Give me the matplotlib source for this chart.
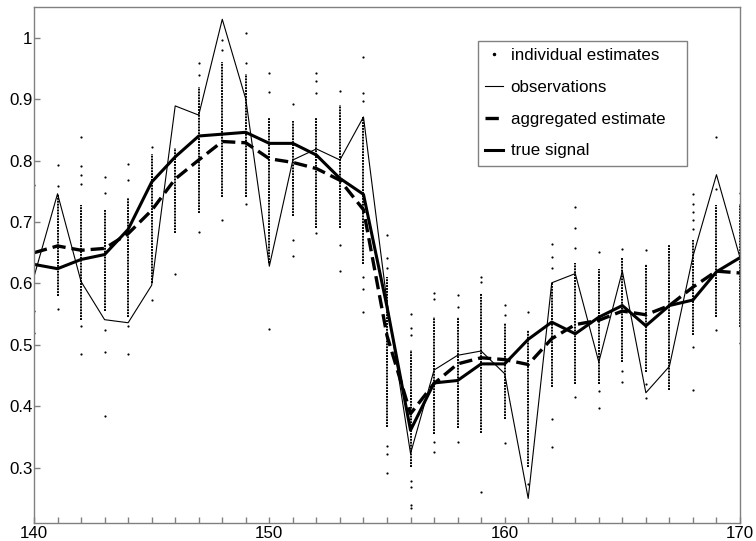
import matplotlib
matplotlib.use("Agg")
import matplotlib.pyplot as plt
from matplotlib.ticker import MultipleLocator, FormatStrFormatter
import numpy as np

plt.rcParams["font.family"] = ["Liberation Sans", "DejaVu Sans"]

# Данные
x_values = list(range(140, 171))

true_signal = [0.631, 0.624, 0.639, 0.647, 0.688, 0.765, 0.806, 0.840, 0.843, 0.846,
               0.828, 0.828, 0.809, 0.771, 0.745, 0.562, 0.361, 0.438, 0.442, 0.469,
               0.469, 0.509, 0.537, 0.518, 0.545, 0.564, 0.531, 0.564, 0.573, 0.619,
               0.642]

aggregated_estimate = [0.650, 0.661, 0.654, 0.657, 0.681, 0.719, 0.770, 0.801, 0.831, 0.829,
                       0.803, 0.797, 0.787, 0.768, 0.720, 0.515, 0.388, 0.437, 0.469, 0.479,
                       0.476, 0.468, 0.510, 0.533, 0.540, 0.555, 0.549, 0.564, 0.594, 0.620,
                       0.617]

observations = [0.611, 0.746, 0.603, 0.541, 0.536, 0.597, 0.889, 0.874, 1.030, 0.900,
                0.628, 0.801, 0.819, 0.801, 0.871, 0.570, 0.323, 0.459, 0.483, 0.490,
                0.453, 0.250, 0.601, 0.616, 0.472, 0.620, 0.422, 0.465, 0.644, 0.777,
                0.642]

# плотная часть облака индивидуальных оценок (верх / низ)
estimates_high = [0.750, 0.745, 0.727, 0.720, 0.739, 0.810, 0.820, 0.920, 0.961, 0.941,
                  0.869, 0.865, 0.870, 0.890, 0.871, 0.611, 0.491, 0.545, 0.545, 0.584,
                  0.535, 0.524, 0.602, 0.633, 0.624, 0.641, 0.632, 0.662, 0.670, 0.727,
                  0.730]
estimates_low = [0.570, 0.580, 0.540, 0.555, 0.545, 0.600, 0.682, 0.714, 0.741, 0.741,
                 0.633, 0.710, 0.690, 0.690, 0.632, 0.366, 0.301, 0.355, 0.364, 0.356,
                 0.380, 0.301, 0.431, 0.437, 0.437, 0.472, 0.456, 0.426, 0.516, 0.545,
                 0.529]

# отдельные выбросы
estimates_outliers = [
    [0.760, 0.555, 0.519],
    [0.793, 0.759, 0.559],
    [0.838, 0.791, 0.776, 0.762, 0.530, 0.485],
    [0.774, 0.747, 0.524, 0.488, 0.384],
    [0.795, 0.769, 0.531, 0.485],
    [0.822, 0.573],
    [0.615],
    [0.959, 0.940, 0.684],
    [0.996, 0.980, 0.703],
    [1.007, 0.959, 0.729],
    [0.943, 0.912, 0.525],
    [0.892, 0.670, 0.645],
    [0.943, 0.930, 0.910, 0.682],
    [0.913, 0.662, 0.620],
    [0.969, 0.910, 0.897, 0.611, 0.591, 0.554],
    [0.679, 0.641, 0.625, 0.336, 0.322, 0.291],
    [0.551, 0.527, 0.516, 0.279, 0.268, 0.240, 0.234],
    [0.585, 0.574, 0.342, 0.325],
    [0.581, 0.562, 0.342],
    [0.611, 0.603, 0.260],
    [0.565, 0.548, 0.341],
    [0.554, 0.274],
    [0.664, 0.643, 0.625, 0.380, 0.334],
    [0.725, 0.691, 0.657, 0.415],
    [0.651, 0.425, 0.397],
    [0.656, 0.458, 0.440],
    [0.655, 0.437, 0.413],
    [],
    [0.745, 0.730, 0.716, 0.703, 0.688, 0.497, 0.427],
    [0.839, 0.753, 0.524],
    [0.747, 0.503],
]

fig = plt.figure(figsize=(7.56, 5.41), dpi=100)
ax = fig.add_axes([34 / 756, 1 - 523 / 541, 706 / 756, 516 / 541])

# Облако индивидуальных оценок
ax.vlines(x_values, estimates_low, estimates_high, colors="black",
          linestyles=(0, (1, 0.5)), linewidth=1.4)
out_x = [x for x, vals in zip(x_values, estimates_outliers) for _ in vals]
out_y = [v for vals in estimates_outliers for v in vals]
ax.scatter(out_x, out_y, s=2.5, color="black", linewidths=0)

# Линии
ax.plot(x_values, observations, color="black", linewidth=0.8)
ax.plot(x_values, aggregated_estimate, color="black", linewidth=2.4,
        dashes=(4, 1.8))
ax.plot(x_values, true_signal, color="black", linewidth=2.2)

# Легенда
handles = [
    plt.Line2D([], [], linestyle="none", marker=".", markersize=3, color="black"),
    plt.Line2D([], [], color="black", linewidth=0.8),
    plt.Line2D([], [], color="black", linewidth=2.4, dashes=(4, 1.8)),
    plt.Line2D([], [], color="black", linewidth=2.2),
]
labels = ["individual estimates", "observations", "aggregated estimate", "true signal"]
leg = ax.legend(handles, labels, loc="upper left",
                bbox_to_anchor=(0.629, 0.5, 0.296, 0.435), mode="expand",
                borderaxespad=0, fontsize=12.2, handlelength=1.05, handletextpad=0.45,
                labelspacing=1.0, borderpad=0.42, fancybox=False, framealpha=1)
leg.get_frame().set_edgecolor("gray")
leg.get_frame().set_linewidth(1.0)

# Оси
ax.set_xlim(140, 170)
ax.set_ylim(0.21, 1.05)
ax.xaxis.set_major_locator(MultipleLocator(10))
ax.xaxis.set_minor_locator(MultipleLocator(1))
ax.yaxis.set_major_locator(MultipleLocator(0.1))
ax.yaxis.set_major_formatter(FormatStrFormatter("%g"))
ax.tick_params(which="both", direction="in", color="gray", length=4.5, width=1,
               labelsize=12.2, top=False, right=False)
ax.tick_params(axis="x", pad=2)
ax.tick_params(axis="y", pad=1)
for spine in ax.spines.values():
    spine.set_color("gray")
    spine.set_linewidth(1.0)

fig.savefig("out.png", dpi=100)
